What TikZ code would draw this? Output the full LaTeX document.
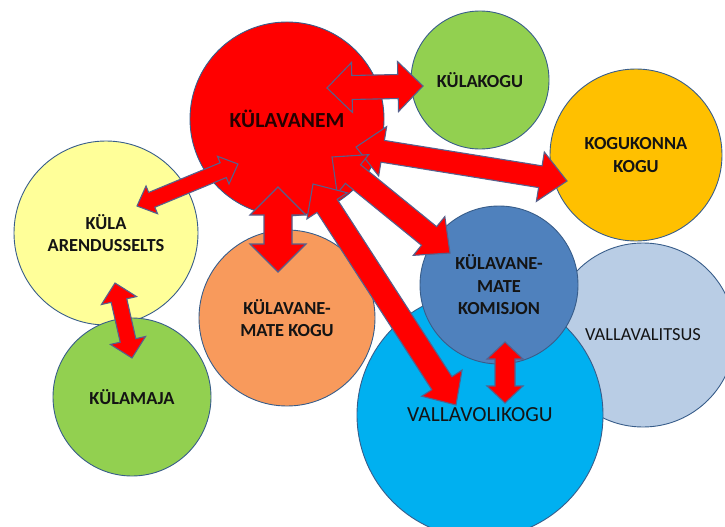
\documentclass[tikz,border=0pt]{standalone}
\usepackage{fontspec}
\setmainfont{Carlito}
\usepackage{tikz}
\usetikzlibrary{calc}
\definecolor{outline}{HTML}{385D8A}
\definecolor{arrowline}{HTML}{56608C}
\definecolor{vanemred}{HTML}{FF0000}
\definecolor{leafgreen}{HTML}{92D050}
\definecolor{gold}{HTML}{FFC000}
\definecolor{paleyellow}{HTML}{FFFF99}
\definecolor{salmon}{HTML}{F89A5C}
\definecolor{steel}{HTML}{4F81BD}
\definecolor{paleblue}{HTML}{B9CDE5}
\definecolor{skyblue}{HTML}{00B0F0}
\definecolor{ink}{HTML}{141414}
\tikzset{
  ball/.style={circle, draw=outline, line width=0.9pt, inner sep=0pt, align=center, text=ink},
  lab/.style={font=\fontsize{18.4}{22.5}\selectfont\bfseries},
  plain/.style={font=\fontsize{18.4}{22.5}\selectfont},
  redarrow/.style={fill=vanemred, draw=arrowline, line width=1.1pt, line join=miter}
}
% double block arrow: ends, shaft half width, head half width, head length
\newcommand{\dblarrow}[5]{%
  \draw[redarrow] (#1)
    -- ($(#1)!#5!(#2)!#4!90:(#2)$)
    -- ($(#1)!#5!(#2)!#3!90:(#2)$)
    -- ($(#2)!#5!(#1)!#3!-90:(#1)$)
    -- ($(#2)!#5!(#1)!#4!-90:(#1)$)
    -- (#2)
    -- ($(#2)!#5!(#1)!#4!90:(#1)$)
    -- ($(#2)!#5!(#1)!#3!90:(#1)$)
    -- ($(#1)!#5!(#2)!#3!-90:(#2)$)
    -- ($(#1)!#5!(#2)!#4!-90:(#2)$)
    -- cycle;}

\begin{document}
\begin{tikzpicture}[x=1pt,y=-1pt]
\useasboundingbox (0,0) rectangle (725,527);

% circles, back to front
\node[ball, plain, fill=paleblue, minimum size=184pt] (valitsus) at (643,335) {VALLAVALITSUS};
\node[ball, fill=skyblue, minimum size=246pt, font=\fontsize{21.5}{26}\selectfont] (volikogu) at (480,415) {VALLAVOLIKOGU};
\node[ball, lab, fill=steel, minimum size=158pt] (komisjon) at (499,285) {KÜLAVANE-\\MATE\\KOMISJON};
\node[ball, lab, fill=gold, minimum size=172pt] (kogukonna) at (636,155) {KOGUKONNA\\KOGU};
\node[ball, lab, fill=leafgreen, minimum size=138pt] (kylakogu) at (480,80) {KÜLAKOGU};
\node[ball, lab, fill=salmon, minimum size=176pt] (matekogu) at (287,318) {KÜLAVANE-\\MATE KOGU};
\node[ball, lab, fill=paleyellow, minimum size=184pt] (selts) at (106,233) {KÜLA\\ARENDUSSELTS};
\node[ball, lab, fill=leafgreen, minimum size=158pt] (kylamaja) at (132,397) {KÜLAMAJA};
\node[ball, fill=vanemred, minimum size=194pt, text=black!85!red, font=\fontsize{21.5}{26}\selectfont\bfseries] (vanem) at (287,119) {KÜLAVANEM};

% arrow ends
\coordinate (a1) at (327,88);  \coordinate (b1) at (423,86);
\coordinate (a2) at (356,147); \coordinate (b2) at (567,181);
\coordinate (a3) at (332,157); \coordinate (b3) at (450,253);
\coordinate (a4) at (313,184); \coordinate (b4) at (456,405);
\coordinate (a5) at (278,187); \coordinate (b5) at (278,272);
\coordinate (a6) at (238,164); \coordinate (b6) at (137,206);
\coordinate (a7) at (115,283); \coordinate (b7) at (132,358);
\coordinate (a8) at (505,342); \coordinate (b8) at (505,403);

% arrows
\dblarrow{a1}{b1}{12pt}{25pt}{25pt}
\dblarrow{a2}{b2}{11pt}{25pt}{27pt}
\dblarrow{a3}{b3}{12pt}{25pt}{27pt}
\dblarrow{a4}{b4}{12pt}{24pt}{26pt}
\dblarrow{a5}{b5}{14pt}{28pt}{28pt}
\dblarrow{a6}{b6}{8pt}{15pt}{16pt}
\dblarrow{a7}{b7}{8pt}{18pt}{18pt}
\dblarrow{a8}{b8}{10pt}{18pt}{17pt}
\end{tikzpicture}
\end{document}
